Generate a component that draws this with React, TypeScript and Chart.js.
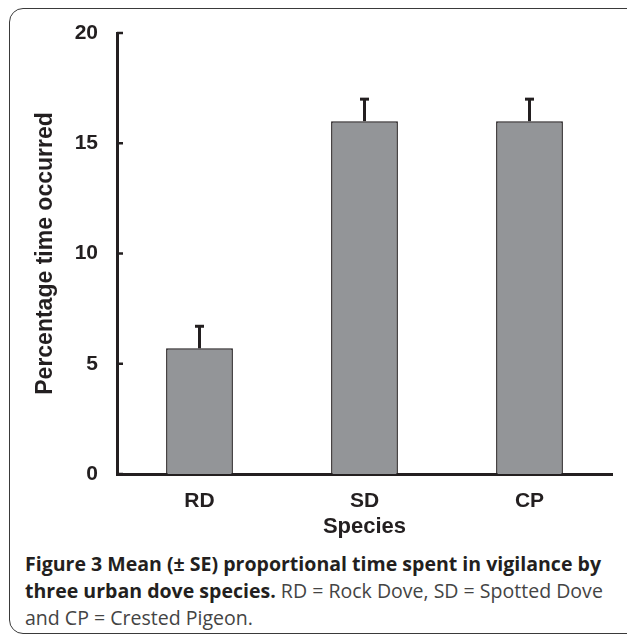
import React, { useEffect, useLayoutEffect, useRef } from "react";
import { Chart, registerables } from "chart.js";

Chart.register(...registerables);

const categories = ["RD", "SD", "CP"];
const means = [5.7, 16.0, 16.0];
const errors = [1.0, 1.0, 1.0];
const yTicks = [0, 5, 10, 15, 20];

const INK = "#231f20";
const FONT = "'Liberation Sans', Arial, sans-serif";

const errorBarPlugin = {
  id: "errorBars",
  afterDatasetsDraw(chart: any) {
    const ctx = chart.ctx;
    const meta = chart.getDatasetMeta(0);
    const y = chart.scales.y;
    ctx.save();
    ctx.strokeStyle = INK;
    ctx.lineWidth = 3;
    meta.data.forEach((el: any, i: number) => {
      const top = y.getPixelForValue(means[i] + errors[i]);
      ctx.beginPath();
      ctx.moveTo(el.x, el.y);
      ctx.lineTo(el.x, top);
      ctx.stroke();
      ctx.beginPath();
      ctx.moveTo(el.x - 4.5, top);
      ctx.lineTo(el.x + 4.5, top);
      ctx.stroke();
    });
    ctx.restore();
  },
};

const inwardTicksPlugin = {
  id: "inwardTicks",
  afterDraw(chart: any) {
    const ctx = chart.ctx;
    const y = chart.scales.y;
    const left = chart.chartArea.left;
    ctx.save();
    ctx.strokeStyle = INK;
    ctx.lineWidth = 2.5;
    y.ticks.forEach((t: any) => {
      const py = y.getPixelForValue(t.value);
      ctx.beginPath();
      ctx.moveTo(left, py);
      ctx.lineTo(left + 6, py);
      ctx.stroke();
    });
    ctx.restore();
  },
};

export default function App() {
  const canvasRef = useRef<HTMLCanvasElement>(null);
  const l1 = useRef<HTMLSpanElement>(null);
  const l2 = useRef<HTMLSpanElement>(null);
  const l3 = useRef<HTMLSpanElement>(null);

  useLayoutEffect(() => {
    const a = l1.current;
    if (!a) return;
    const w = a.getBoundingClientRect().width;
    if (w <= 0) return;
    const s = 576 / w;
    [l1, l2, l3].forEach((r) => {
      if (r.current) r.current.style.transform = `scaleX(${s})`;
    });
  }, []);

  useEffect(() => {
    if (!canvasRef.current) return;
    const chart = new Chart(canvasRef.current, {
      type: "bar",
      data: {
        labels: categories,
        datasets: [
          {
            data: means,
            backgroundColor: "#939598",
            borderColor: INK,
            borderWidth: 1.5,
            categoryPercentage: 1,
            barPercentage: 0.405,
          },
        ],
      },
      options: {
        animation: false,
        responsive: false,
        devicePixelRatio: 1,
        layout: { padding: { top: 33, right: 15, left: 0, bottom: 0 } },
        plugins: { legend: { display: false }, tooltip: { enabled: false } },
        scales: {
          x: {
            type: "category",
            grid: { display: false, drawTicks: false },
            border: { display: true, color: INK, width: 3 },
            ticks: { color: INK, font: { family: FONT, size: 21, weight: "bold" }, padding: 15 },
            title: {
              display: true,
              text: "Species",
              color: INK,
              font: { family: FONT, size: 22, weight: "bold", lineHeight: 1.2 },
              padding: { top: 0, bottom: 5 },
            },
            afterFit(scale: any) {
              scale.height = 71;
            },
          },
          y: {
            min: 0,
            max: 20,
            grid: { display: false, drawTicks: false },
            border: { display: true, color: INK, width: 3 },
            afterBuildTicks(scale: any) {
              scale.ticks = yTicks.map((v) => ({ value: v }));
            },
            ticks: { color: INK, font: { family: FONT, size: 21, weight: "bold" }, padding: 19 },
            title: {
              display: true,
              text: "Percentage time occurred",
              color: INK,
              font: { family: FONT, size: 23, weight: "bold", lineHeight: 1.2 },
              padding: { top: 32, bottom: 0 },
            },
            afterFit(scale: any) {
              scale.width = 117;
            },
          },
        },
      },
      plugins: [errorBarPlugin, inwardTicksPlugin],
    } as any);
    return () => chart.destroy();
  }, []);

  const capFont = "'Open Sans', 'Noto Sans', sans-serif";
  const lineStyle: React.CSSProperties = {
    position: "absolute",
    left: 25,
    height: 27,
    lineHeight: "27px",
    whiteSpace: "nowrap",
  };
  const spanStyle: React.CSSProperties = { display: "inline-block", transformOrigin: "left center" };
  const light: React.CSSProperties = { fontWeight: 400, color: "#444" };

  return (
    <div style={{ position: "absolute", left: 0, top: 0, width: 627, height: 636, overflow: "hidden", background: "#fff" }}>
      <div
        style={{
          position: "absolute",
          left: 9,
          top: 8,
          width: 650,
          height: 624,
          border: "1.5px solid #3a3a3a",
          borderRadius: 14,
        }}
      />
      <canvas
        ref={canvasRef}
        width={627}
        height={545}
        style={{ position: "absolute", left: 0, top: 0, width: 627, height: 545 }}
      />
      <div style={{ fontFamily: capFont, fontSize: 20, color: INK }}>
        <div style={{ ...lineStyle, top: 550 }}>
          <span ref={l1} style={spanStyle}>
            <b>Figure 3 Mean (± SE) proportional time spent in vigilance by</b>
          </span>
        </div>
        <div style={{ ...lineStyle, top: 577 }}>
          <span ref={l2} style={spanStyle}>
            <b>three urban dove species.</b>
            <span style={light}> RD = Rock Dove, SD = Spotted Dove</span>
          </span>
        </div>
        <div style={{ ...lineStyle, top: 604 }}>
          <span ref={l3} style={spanStyle}>
            <span style={light}>and CP = Crested Pigeon.</span>
          </span>
        </div>
      </div>
    </div>
  );
}
